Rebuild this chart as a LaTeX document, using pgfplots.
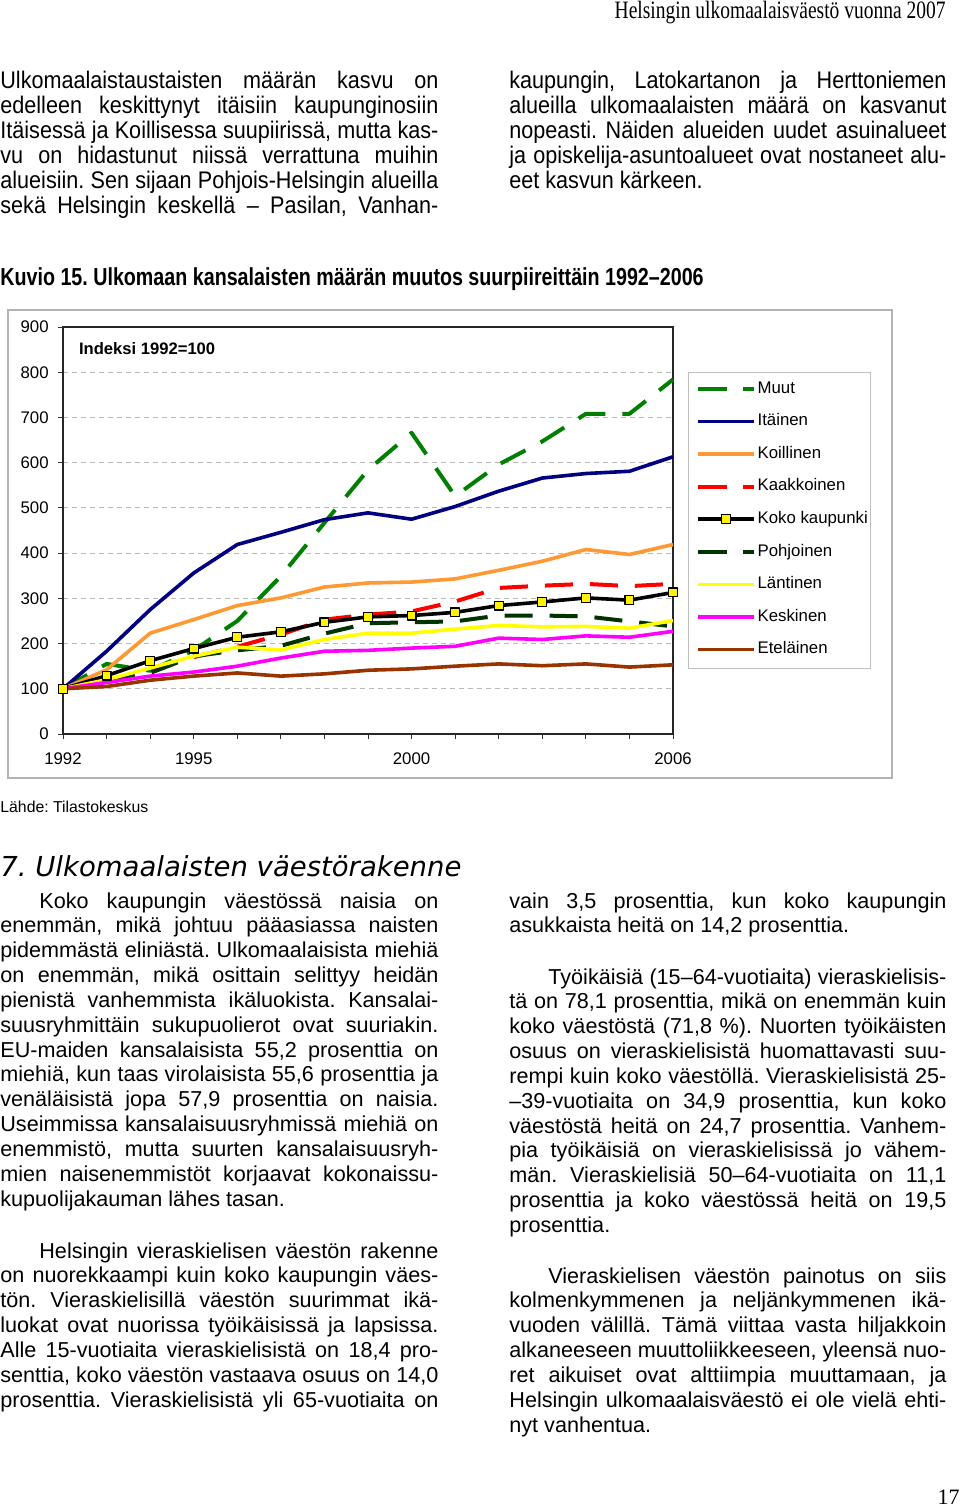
\documentclass[border=0pt]{standalone}
\usepackage{fontspec}
\setmainfont{Liberation Sans}
\newfontfamily\narrowsans{Liberation Sans}[FakeStretch=0.9]
\newfontfamily\titlesans{Liberation Sans}[FakeStretch=0.8]
\newfontfamily\narrowserif{Liberation Serif}[FakeStretch=0.78]
\newfontfamily\timesf{Liberation Serif}
\newfontfamily\verd{DejaVu Sans}
\usepackage{pgfplots}
\pgfplotsset{compat=1.18}
\frenchspacing
\definecolor{muut}{RGB}{0,128,0}
\definecolor{itainen}{RGB}{0,0,128}
\definecolor{koillinen}{RGB}{255,153,51}
\definecolor{kaakkoinen}{RGB}{255,0,0}
\definecolor{pohjoinen}{RGB}{0,51,0}
\definecolor{lantinen}{RGB}{255,255,0}
\definecolor{keskinen}{RGB}{255,0,255}
\definecolor{etelainen}{RGB}{153,51,0}
\newcommand\para[2]{\vtop{\hsize=#1\relax\baselineskip=12.42pt\relax\lineskiplimit=-20pt\relax #2}}
\newcommand\J[1]{\hbox to\hsize{#1}}
\newcommand\E[1]{\hbox{#1}}
\begin{document}
\frenchspacing
\begin{tikzpicture}
\useasboundingbox (0,0) rectangle (480pt,-754pt);
\fill[white] (0,0) rectangle (480pt,-754pt);
% header
\node[anchor=base east, inner sep=0pt] at (473pt,-9.5pt) {\narrowserif\fontsize{12.5}{14}\selectfont Helsingin ulkomaalaisväestö vuonna 2007};
% top text
\node[anchor=base west, inner sep=0pt] at (0pt,-44.5pt) {\narrowsans\fontsize{12}{12.42}\selectfont\para{219pt}{%
\J{Ulkomaalaistaustaisten määrän kasvu on}
\J{edelleen keskittynyt itäisiin kaupunginosiin}
\J{Itäisessä ja Koillisessa suupiirissä, mutta kas-}
\J{vu on hidastunut niissä verrattuna muihin}
\J{alueisiin. Sen sijaan Pohjois-Helsingin alueilla}
\J{sekä Helsingin keskellä – Pasilan, Vanhan-}}};
\node[anchor=base west, inner sep=0pt] at (254.5pt,-44.5pt) {\narrowsans\fontsize{12}{12.42}\selectfont\para{218.5pt}{%
\J{kaupungin, Latokartanon ja Herttoniemen}
\J{alueilla ulkomaalaisten määrä on kasvanut}
\J{nopeasti. Näiden alueiden uudet asuinalueet}
\J{ja opiskelija-asuntoalueet ovat nostaneet alu-}
\E{eet kasvun kärkeen.}}};
% figure title
\node[anchor=base west, inner sep=0pt] at (0pt,-143pt) {\titlesans\bfseries\fontsize{12.3}{14}\selectfont Kuvio 15. Ulkomaan kansalaisten määrän muutos suurpiireittäin 1992–2006};
% chart frame
\draw[gray!60, line width=0.6pt] (4pt,-155pt) rectangle (446pt,-389pt);
\draw[gray!50, line width=0.5pt] (344pt,-186.35pt) rectangle (435pt,-334pt);
\begin{axis}[
 at={(31.5pt,-367pt)}, anchor=south west,
 scale only axis, width=305pt, height=203.5pt,
 xmin=1992, xmax=2006, ymin=0, ymax=900,
 xtick={1992,1995,2000,2006},
 xticklabels={1992,1995,2000,2006},
 minor xtick={1993,1994,1996,1997,1998,1999,2001,2002,2003,2004,2005},
 ytick={0,100,...,900},
 tick align=outside, xtick pos=lower, ytick pos=left,
 major tick length=2.5pt, minor tick length=2.5pt,
 ymajorgrids, grid style={gray!55, line width=0.4pt, dash pattern=on 2.5pt off 2pt},
 axis line style={black!85, line width=0.7pt},
 every tick/.style={black!80, line width=0.5pt},
 ticklabel style={font=\fontsize{8.4}{10}\selectfont},
 /pgf/number format/assume math mode=true,
 /pgf/number format/1000 sep={},
 yticklabel style={inner sep=0pt, xshift=-4.5pt},
 xticklabel style={inner sep=0pt, yshift=-6.5pt},
 clip=false,
 legend style={draw=none, fill=none, inner sep=0pt, at={(1.0377,0.868)}, anchor=north west,
   row sep=8.7pt, font=\fontsize{8.4}{10}\selectfont,
   nodes={inner sep=0pt, text height=6pt, text depth=1.6pt}},
 legend cell align=left,
 legend image code/.code={\draw[mark repeat=2,mark phase=2,#1] plot coordinates {(0pt,0pt) (13.9pt,0pt) (27.8pt,0pt)}; \path (28.6pt,0pt);},
 every axis plot/.append style={line width=1.8pt, line join=round},
]
\addplot[muut, line width=2pt, dash pattern=on 14pt off 8.5pt] coordinates {(1992,100) (1993,155) (1994,140) (1995,185) (1996,250) (1997,349) (1998,467) (1999,584) (2000,666) (2001,526) (2002,596) (2003,647) (2004,708) (2005,708) (2006,784)};
\addlegendentry{Muut}
\addplot[itainen] coordinates {(1992,100) (1993,183) (1994,275) (1995,356) (1996,419) (1997,446) (1998,474) (1999,489) (2000,475) (2001,503) (2002,537) (2003,566) (2004,576) (2005,581) (2006,613)};
\addlegendentry{Itäinen}
\addplot[koillinen] coordinates {(1992,100) (1993,142) (1994,223) (1995,253) (1996,284) (1997,301) (1998,325) (1999,334) (2000,336) (2001,343) (2002,362) (2003,382) (2004,408) (2005,397) (2006,419)};
\addlegendentry{Koillinen}
\addplot[kaakkoinen, line width=2pt, dash pattern=on 14pt off 8.5pt] coordinates {(1992,100) (1993,115) (1994,145) (1995,170) (1996,193) (1997,220) (1998,253) (1999,264) (2000,271) (2001,293) (2002,323) (2003,328) (2004,332) (2005,327) (2006,332)};
\addlegendentry{Kaakkoinen}
\addplot[black, mark=square*, mark size=2.2pt, mark options={solid, fill=yellow, draw=black, line width=0.6pt}] coordinates {(1992,100) (1993,129) (1994,162) (1995,189) (1996,214) (1997,226) (1998,247) (1999,259) (2000,262) (2001,269) (2002,284) (2003,292) (2004,301) (2005,296) (2006,313)};
\addlegendentry{Koko kaupunki}
\addplot[pohjoinen, line width=2pt, dash pattern=on 14pt off 8.5pt] coordinates {(1992,100) (1993,118) (1994,135) (1995,172) (1996,185) (1997,195) (1998,222) (1999,245) (2000,247) (2001,249) (2002,262) (2003,262) (2004,260) (2005,249) (2006,238)};
\addlegendentry{Pohjoinen}
\addplot[lantinen] coordinates {(1992,100) (1993,120) (1994,146) (1995,172) (1996,192) (1997,186) (1998,209) (1999,223) (2000,223) (2001,232) (2002,240) (2003,237) (2004,238) (2005,234) (2006,251)};
\addlegendentry{Läntinen}
\addplot[keskinen] coordinates {(1992,100) (1993,114) (1994,128) (1995,137) (1996,150) (1997,168) (1998,183) (1999,185) (2000,190) (2001,194) (2002,212) (2003,209) (2004,217) (2005,214) (2006,227)};
\addlegendentry{Keskinen}
\addplot[etelainen] coordinates {(1992,100) (1993,105) (1994,119) (1995,128) (1996,135) (1997,128) (1998,133) (1999,141) (2000,144) (2001,150) (2002,155) (2003,151) (2004,155) (2005,148) (2006,153)};
\addlegendentry{Eteläinen}
\node[anchor=base west, inner sep=0pt, font=\bfseries\fontsize{8.3}{10}\selectfont] at (axis cs:1992.36,840) {Indeksi 1992=100};
\end{axis}
% source
\node[anchor=base west, inner sep=0pt] at (0pt,-406pt) {\fontsize{7.9}{9}\selectfont Lähde: Tilastokeskus};
% section heading
\node[anchor=base west, inner sep=0pt] at (0pt,-438pt) {\verd\itshape\fontsize{13.75}{16}\selectfont 7. Ulkomaalaisten väestörakenne};
% bottom left
\node[anchor=base west, inner sep=0pt] at (0pt,-454pt) {\fontsize{10.8}{12.42}\selectfont\para{219pt}{%
\J{\hskip19.5pt Koko kaupungin väestössä naisia on}
\J{enemmän, mikä johtuu pääasiassa naisten}
\J{pidemmästä eliniästä. Ulkomaalaisista miehiä}
\J{on enemmän, mikä osittain selittyy heidän}
\J{pienistä vanhemmista ikäluokista. Kansalai-}
\J{suusryhmittäin sukupuolierot ovat suuriakin.}
\J{EU-maiden kansalaisista 55,2 prosenttia on}
\J{miehiä, kun taas virolaisista 55,6 prosenttia ja}
\J{venäläisistä jopa 57,9 prosenttia on naisia.}
\J{Useimmissa kansalaisuusryhmissä miehiä on}
\J{enemmistö, mutta suurten kansalaisuusryh-}
\J{mien naisenemmistöt korjaavat kokonaissu-}
\E{kupuolijakauman lähes tasan.}}};
\node[anchor=base west, inner sep=0pt] at (0pt,-629pt) {\fontsize{10.8}{12.42}\selectfont\para{219pt}{%
\J{\hskip19.5pt Helsingin vieraskielisen väestön rakenne}
\J{on nuorekkaampi kuin koko kaupungin väes-}
\J{tön. Vieraskielisillä väestön suurimmat ikä-}
\J{luokat ovat nuorissa työikäisissä ja lapsissa.}
\J{Alle 15-vuotiaita vieraskielisistä on 18,4 pro-}
\J{senttia, koko väestön vastaava osuus on 14,0}
\J{prosenttia. Vieraskielisistä yli 65-vuotiaita on}}};
% bottom right
\node[anchor=base west, inner sep=0pt] at (254.5pt,-454pt) {\fontsize{10.8}{12.42}\selectfont\para{218.5pt}{%
\J{vain 3,5 prosenttia, kun koko kaupungin}
\E{asukkaista heitä on 14,2 prosenttia.}}};
\node[anchor=base west, inner sep=0pt] at (254.5pt,-492pt) {\fontsize{10.8}{12.42}\selectfont\para{218.5pt}{%
\J{\hskip19.5pt Työikäisiä (15–64-vuotiaita) vieraskielisis-}
\J{tä on 78,1 prosenttia, mikä on enemmän kuin}
\J{koko väestöstä (71,8 \%). Nuorten työikäisten}
\J{osuus on vieraskielisistä huomattavasti suu-}
\J{rempi kuin koko väestöllä. Vieraskielisistä 25-}
\J{–39-vuotiaita on 34,9 prosenttia, kun koko}
\J{väestöstä heitä on 24,7 prosenttia. Vanhem-}
\J{pia työikäisiä on vieraskielisissä jo vähem-}
\J{män. Vieraskielisiä 50–64-vuotiaita on 11,1}
\J{prosenttia ja koko väestössä heitä on 19,5}
\E{prosenttia.}}};
\node[anchor=base west, inner sep=0pt] at (254.5pt,-641.5pt) {\fontsize{10.8}{12.42}\selectfont\para{218.5pt}{%
\J{\hskip19.5pt Vieraskielisen väestön painotus on siis}
\J{kolmenkymmenen ja neljänkymmenen ikä-}
\J{vuoden välillä. Tämä viittaa vasta hiljakkoin}
\J{alkaneeseen muuttoliikkeeseen, yleensä nuo-}
\J{ret aikuiset ovat alttiimpia muuttamaan, ja}
\J{Helsingin ulkomaalaisväestö ei ole vielä ehti-}
\E{nyt vanhentua.}}};
% page number
\node[anchor=base east, inner sep=0pt] at (480pt,-752pt) {\timesf\fontsize{11}{12}\selectfont 17};
\end{tikzpicture}
\end{document}
